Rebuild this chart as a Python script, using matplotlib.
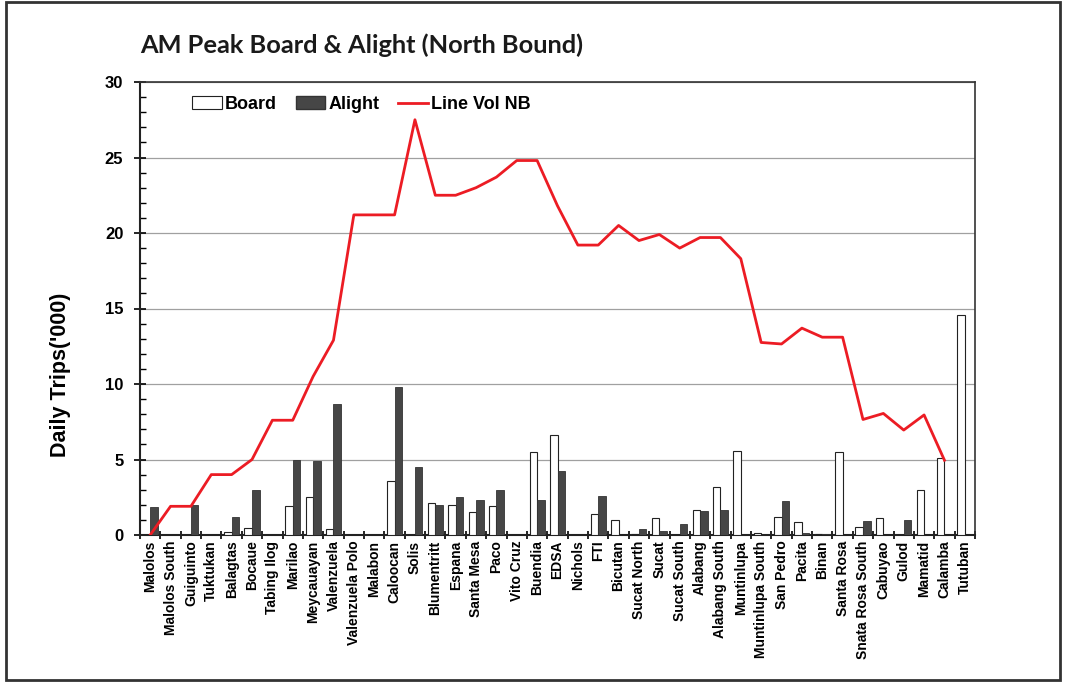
import matplotlib
matplotlib.use("Agg")
import matplotlib.pyplot as plt
import numpy as np
from matplotlib.patches import Rectangle, Patch
from matplotlib.lines import Line2D

stations = ["Malolos", "Malolos South", "Guiguinto", "Tuktukan", "Balagtas", "Bocaue",
            "Tabing Ilog", "Marilao", "Meycauayan", "Valenzuela", "Valenzuela Polo",
            "Malabon", "Caloocan", "Solis", "Blumentritt", "Espana", "Santa Mesa", "Paco",
            "Vito Cruz", "Buendia", "EDSA", "Nichols", "FTI", "Bicutan", "Sucat North",
            "Sucat", "Sucat South", "Alabang", "Alabang South", "Muntinlupa",
            "Muntinlupa South", "San Pedro", "Pacita", "Binan", "Santa Rosa",
            "Snata Rosa South", "Cabuyao", "Gulod", "Mamatid", "Calamba", "Tutuban"]

board = [0, 0, 0, 0, 0.2, 0.45, 0, 1.9, 2.5, 0.4, 0, 0, 3.6, 0, 2.1, 2.0, 1.55, 1.95,
         0, 5.5, 6.65, 0, 1.4, 1.0, 0.05, 1.15, 0, 1.65, 3.15, 5.55,
         0.15, 1.2, 0.85, 0.07, 5.5, 0.5, 1.15, 0, 2.95, 5.1, 14.55]

alight = [1.85, 0, 2.0, 0, 1.2, 3.0, 0, 5.0, 4.87, 8.7, 0, 0, 9.8, 4.5, 2.0, 2.5, 2.3, 2.95,
          0, 2.35, 4.25, 0, 2.6, 0, 0.42, 0.25, 0.73, 1.6, 1.65, 0,
          0, 2.25, 0.13, 0.07, 0, 0.9, 0, 1.0, 0, 0, 0]

line_vol = [0, 1.9, 1.9, 4.0, 4.0, 5.0, 7.6, 7.6, 10.5, 12.9, 21.2, 21.2, 21.2, 27.5,
            22.5, 22.5, 23.0, 23.7, 24.8, 24.8, 21.8, 19.2, 19.2, 20.5, 19.5, 19.9,
            19.0, 19.7, 19.7, 18.3, 12.75, 12.65, 13.7, 13.1, 13.1, 7.65, 8.05, 6.95,
            7.95, 4.95, np.nan]

fig = plt.figure(figsize=(10.65, 6.86), dpi=100)
ax = fig.add_axes([140/1065, 1-535/686, 835/1065, 453/686])

x = np.arange(len(stations))
w = 0.37
ax.bar(x - w/2, board, width=w, color="white", edgecolor="#222222", linewidth=0.8, zorder=3)
ax.bar(x + w/2, alight, width=w, color="#464646", edgecolor="#333333", linewidth=0.6, zorder=3)
ax.plot(x, line_vol, color="#ec1c24", linewidth=2.0, zorder=4)

ax.set_xlim(-0.5, len(stations) - 0.5)
ax.set_ylim(0, 30)
ax.set_yticks(np.arange(0, 31, 5))
ax.set_yticks(np.arange(0, 31, 1), minor=True)
ax.yaxis.grid(True, which="major", color="#a0a0a0", linewidth=0.9, zorder=0)
ax.set_xticks(x)
ax.set_xticklabels(stations, rotation=90, fontsize=10, fontweight="bold",
                   family="Liberation Sans")
ax.set_xticks(np.arange(-0.5, len(stations), 1), minor=True)
ax.tick_params(axis="x", which="major", length=0, pad=4)
ax.tick_params(axis="x", which="minor", length=6, direction="inout", width=1.2)
ax.tick_params(axis="y", which="major", length=8, direction="inout", width=1.2, pad=8)
ax.tick_params(axis="y", which="minor", length=4, direction="in", width=1.0)
for lbl in ax.get_yticklabels():
    lbl.set_fontweight("bold")
    lbl.set_fontsize(12)
    lbl.set_family("Liberation Sans")
for s in ["left", "bottom"]:
    ax.spines[s].set_linewidth(1.5)
    ax.spines[s].set_color("#222222")
for s in ["top", "right"]:
    ax.spines[s].set_linewidth(1.2)
    ax.spines[s].set_color("#333333")

ax.set_ylabel("Daily Trips('000)", fontsize=15.5, fontweight="bold",
              family="Liberation Sans")
ax.yaxis.set_label_coords((71 - 140) / 835, (535 - 375) / 453)

handles = [Patch(facecolor="white", edgecolor="#222222", linewidth=0.8),
           Patch(facecolor="#464646", edgecolor="#333333"),
           Line2D([0], [0], color="#ec1c24", linewidth=2.0)]
ax.legend(handles, ["Board", "Alight", "Line Vol NB"], loc="upper left",
          bbox_to_anchor=(0.043, 1.005), ncol=3, frameon=False, handlelength=1.65,
          handletextpad=0.15, columnspacing=1.05,
          prop={"family": "Liberation Sans", "weight": "bold", "size": 13})

fig.text(140/1065, 1-45/686, "AM Peak Board & Alight (North Bound)", fontsize=18.3,
         fontweight="bold", family="Lato", va="center", ha="left", color="#1a1a1a")

fig.patches.append(Rectangle((6/1065, 1-680/686), 1054/1065, 678/686,
                             transform=fig.transFigure, fill=False,
                             edgecolor="#333333", linewidth=2.0))

fig.savefig("out.png", dpi=100, facecolor="white")
